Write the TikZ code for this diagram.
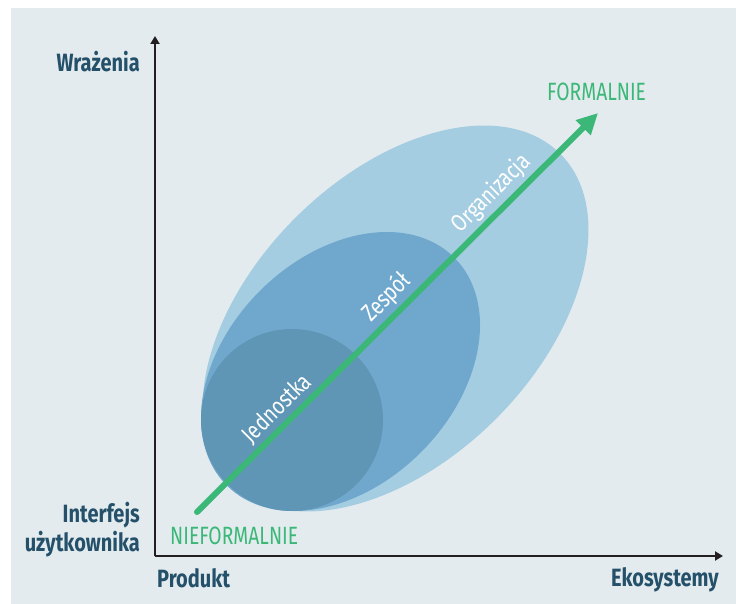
\documentclass[tikz,border=0pt]{standalone}
\usepackage{fontspec}
\setmainfont{Fira Sans}[FakeStretch=0.8]
\newfontfamily\grfont{Fira Sans}[FakeStretch=0.77]
\usetikzlibrary{arrows.meta,shapes.geometric}
\definecolor{bg}{HTML}{E3EBEE}
\definecolor{outerc}{HTML}{A5CDE1}
\definecolor{midc}{HTML}{70A8CD}
\definecolor{innerc}{HTML}{5F96B5}
\definecolor{darkt}{HTML}{24506A}
\definecolor{axisc}{HTML}{231F20}
\definecolor{greenc}{HTML}{3BB878}
\tikzset{
  blob/.style={ellipse, draw=none, inner sep=0pt, outer sep=0pt},
  axlbl/.style={inner sep=0pt, text=darkt, font=\bfseries\fontsize{25}{29}\selectfont},
  grlbl/.style={inner sep=0pt, text=greenc, font=\grfont\fontsize{25}{29}\selectfont},
  onarrow/.style={sloped, above=2pt, inner sep=1pt, text=white, font=\fontsize{24}{27}\selectfont},
  axisline/.style={draw=axisc, line width=2pt, -{Triangle[length=8pt,width=9pt]}},
  greenline/.style={draw=greenc, line width=6pt, line cap=round, -{Triangle[length=21pt,width=20pt]}}
}
\begin{document}
\begin{tikzpicture}[x=1pt,y=-1pt]
\useasboundingbox (0,0) rectangle (736,604);
\fill[bg] (11,8) rectangle (736,604);
% nested areas
\node[blob, fill=outerc, minimum width=466pt, minimum height=284pt, rotate=45] (org) at (395.5,318.5) {};
\node[blob, fill=midc, minimum width=322pt, minimum height=228pt, rotate=45] (zes) at (340.5,371.5) {};
\node[blob, fill=innerc, minimum width=182pt, minimum height=182pt] (jed) at (292,420) {};
% axes
\coordinate (o) at (155,556);
\coordinate (ytip) at (155,36);
\coordinate (xtip) at (723,556);
\draw[axisline] (o) -- (ytip);
\draw[axisline] (o) -- (xtip);
% green arrow
\coordinate (gs) at (197,512);
\coordinate (ge) at (598,113);
\draw[greenline] (gs) --
  node[onarrow, pos=0.229] (tj) {Jednostka}
  node[onarrow, pos=0.505] (tz) {Zespół}
  node[onarrow, pos=0.766] (to) {Organizacja} (ge);
% labels
\node[axlbl, anchor=base east] (wr) at (140,72) {Wrażenia};
\node[axlbl, anchor=base east] (if1) at (140,522) {Interfejs};
\node[axlbl, anchor=base east] (if2) at (140,551) {użytkownika};
\node[axlbl, anchor=base west] (pr) at (157,587) {Produkt};
\node[axlbl, anchor=base east] (ek) at (719,586) {Ekosystemy};
\node[grlbl, anchor=base west] (nf) at (170,544) {NIEFORMALNIE};
\node[grlbl, anchor=base west] (fo) at (547,101) {FORMALNIE};
\end{tikzpicture}
\end{document}
